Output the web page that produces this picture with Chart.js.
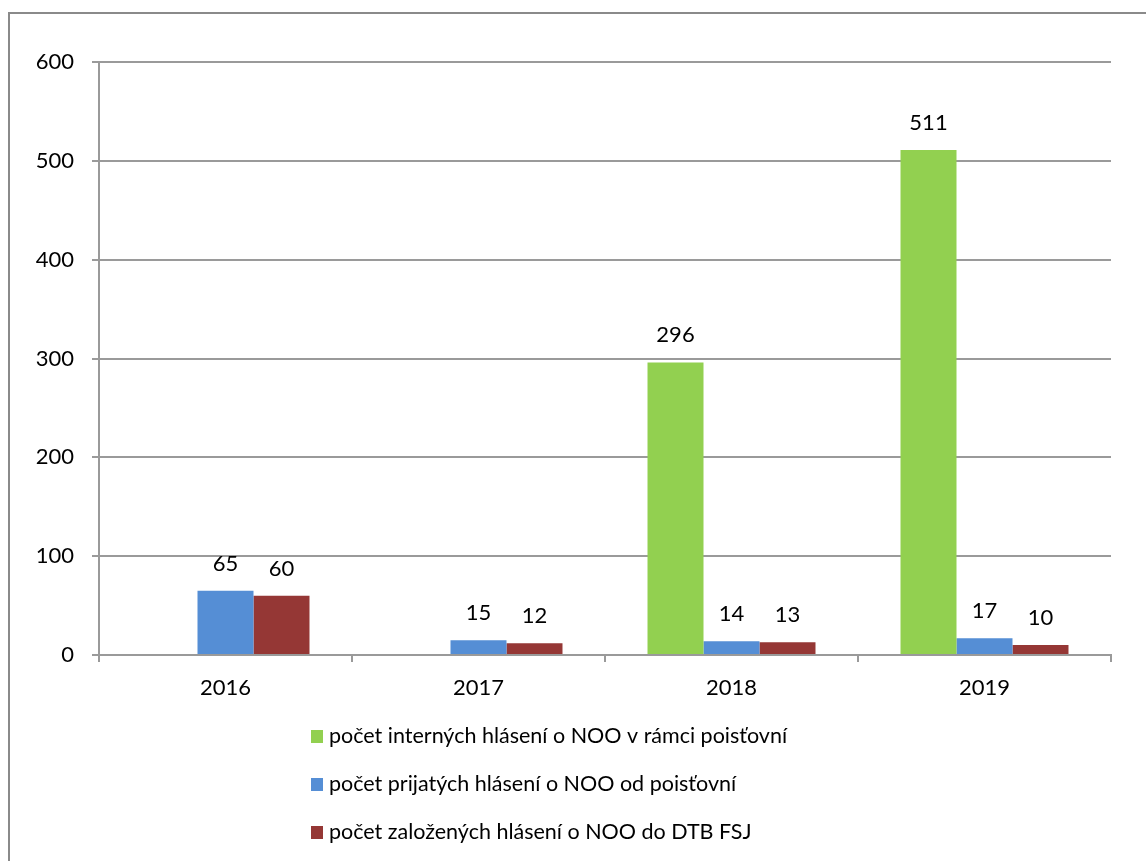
<!DOCTYPE html>
<html>
<head>
<meta charset="utf-8">
<script src="https://cdn.jsdelivr.net/npm/chart.js@4/dist/chart.umd.min.js"></script>
<style>
  html, body { margin: 0; padding: 0; background: #fff; }
  #wrap { width: 1146px; height: 861px; position: relative; }
</style>
</head>
<body>
<div id="wrap"><canvas id="chart"></canvas></div>
<script>
// chart data
const years = ["2016", "2017", "2018", "2019"];
const internalReports = [null, null, 296, 511];
const receivedReports = [65, 15, 14, 17];
const createdReports = [60, 12, 13, 10];
const seriesNames = [
    "počet interných hlásení o NOO v rámci poisťovní",
    "počet prijatých hlásení o NOO od poisťovní",
    "počet založených hlásení o NOO do DTB FSJ"
];
const yTicks = [0, 100, 200, 300, 400, 500, 600];

const FONT = "Lato, Carlito, Calibri, sans-serif";

// frame lines (left + top) like the Excel chart border
const framePlugin = {
    id: "frame",
    beforeDraw(chart) {
        const ctx = chart.ctx;
        ctx.save();
        ctx.strokeStyle = "#8a8a8a";
        ctx.lineWidth = 2;
        ctx.beginPath();
        ctx.moveTo(9, 861);
        ctx.lineTo(9, 13);
        ctx.lineTo(1146, 13);
        ctx.stroke();
        ctx.restore();
    }
};

// value labels above bars
const valueLabels = {
    id: "valueLabels",
    afterDatasetsDraw(chart) {
        const ctx = chart.ctx;
        ctx.save();
        ctx.font = "22px " + FONT;
        ctx.fillStyle = "#000";
        ctx.textAlign = "center";
        ctx.textBaseline = "alphabetic";
        chart.data.datasets.forEach((ds, i) => {
            chart.getDatasetMeta(i).data.forEach((bar, j) => {
                const v = ds.data[j];
                if (v === null || v === undefined) return;
                ctx.fillText(String(v), bar.x, bar.y - 20);
            });
        });
        ctx.restore();
    }
};

// vertical legend under the axis
const sideLegend = {
    id: "sideLegend",
    afterDraw(chart) {
        const ctx = chart.ctx;
        ctx.save();
        ctx.font = "21.5px " + FONT;
        ctx.textBaseline = "alphabetic";
        ctx.textAlign = "left";
        chart.data.datasets.forEach((ds, i) => {
            const base = 743 + i * 48;
            ctx.fillStyle = ds.backgroundColor;
            ctx.fillRect(311, base - 13, 12, 13);
            ctx.fillStyle = "#000";
            ctx.fillText(ds.label, 329, base);
        });
        ctx.restore();
    }
};

const ctx = document.getElementById("chart").getContext("2d");
new Chart(ctx, {
    type: "bar",
    data: {
        labels: years,
        datasets: [
            { label: seriesNames[0], data: internalReports, backgroundColor: "#92d050" },
            { label: seriesNames[1], data: receivedReports, backgroundColor: "#558ed5" },
            { label: seriesNames[2], data: createdReports, backgroundColor: "#953735" }
        ]
    },
    options: {
        responsive: true,
        maintainAspectRatio: false,
        animation: false,
        devicePixelRatio: 1,
        layout: { padding: { left: 0, top: 62, right: 35, bottom: 0 } },
        datasets: {
            bar: { barPercentage: 1, categoryPercentage: 0.664 }
        },
        plugins: {
            legend: { display: false },
            tooltip: { enabled: false }
        },
        scales: {
            x: {
                afterFit(scale) { scale.height = 206; },
                grid: {
                    offset: true,
                    drawOnChartArea: false,
                    drawTicks: true,
                    tickLength: 7,
                    color: "#9a9a9a",
                    lineWidth: 2
                },
                border: { color: "#9a9a9a", width: 2 },
                ticks: {
                    font: { family: FONT, size: 22 },
                    color: "#000",
                    padding: 13
                }
            },
            y: {
                min: 0,
                max: 600,
                afterFit(scale) { scale.width = 99; },
                afterBuildTicks(scale) { scale.ticks = yTicks.map(v => ({ value: v })); },
                grid: {
                    color: "#9a9a9a",
                    lineWidth: 2,
                    tickLength: 7
                },
                border: { color: "#9a9a9a", width: 2 },
                ticks: {
                    font: { family: FONT, size: 22 },
                    color: "#000",
                    padding: 18
                }
            }
        }
    },
    plugins: [framePlugin, valueLabels, sideLegend]
});
</script>
</body>
</html>
